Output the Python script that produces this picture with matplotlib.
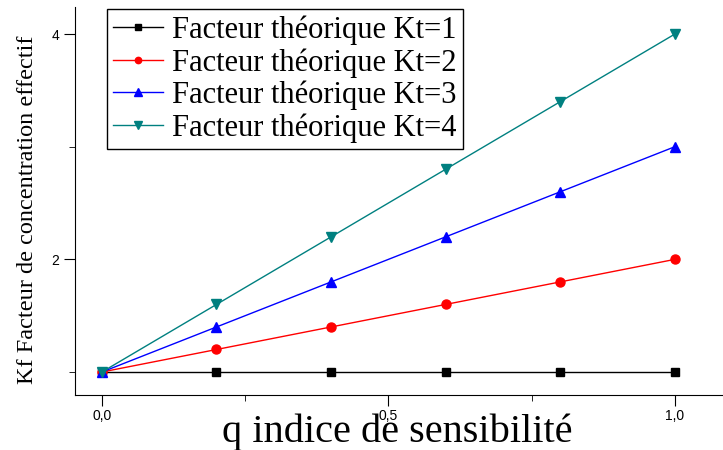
import numpy as np
import matplotlib
matplotlib.use("Agg")
import matplotlib.pyplot as plt
from matplotlib.ticker import MultipleLocator, FuncFormatter

# data
q = [0.0, 0.2, 0.4, 0.6, 0.8, 1.0]
kf_kt1 = [1.0, 1.0, 1.0, 1.0, 1.0, 1.0]
kf_kt2 = [1.0, 1.2, 1.4, 1.6, 1.8, 2.0]
kf_kt3 = [1.0, 1.4, 1.8, 2.2, 2.6, 3.0]
kf_kt4 = [1.0, 1.6, 2.2, 2.8, 3.4, 4.0]
labels = ["Facteur théorique Kt=1", "Facteur théorique Kt=2",
          "Facteur théorique Kt=3", "Facteur théorique Kt=4"]

serif = "Liberation Serif"
sans = "Liberation Sans"

fig = plt.figure(figsize=(7.23, 4.5), dpi=100)
ax = fig.add_axes([0.1037, 0.1222, 0.8963, 0.8622])

ax.plot(q, kf_kt1, color="black", lw=1, marker="s", ms=5.5, label=labels[0])
ax.plot(q, kf_kt2, color="red", lw=1, marker="o", ms=6.5, label=labels[1])
ax.plot(q, kf_kt3, color="blue", lw=1, marker="^", ms=7.5, label=labels[2])
ax.plot(q, kf_kt4, color="#008080", lw=1, marker="v", ms=7.5, label=labels[3])

ax.set_xlim(-0.047, 1.084)
ax.set_ylim(0.796, 4.24)

ax.spines["top"].set_visible(False)
ax.spines["right"].set_visible(False)

ax.xaxis.set_major_locator(MultipleLocator(0.5))
ax.xaxis.set_minor_locator(MultipleLocator(0.25))
ax.yaxis.set_major_locator(MultipleLocator(2))
ax.yaxis.set_minor_locator(MultipleLocator(1))
ax.xaxis.set_major_formatter(FuncFormatter(lambda v, p: f"{v:.1f}".replace(".", ",")))
ax.yaxis.set_major_formatter(FuncFormatter(lambda v, p: f"{v:.0f}"))
ax.tick_params(which="major", length=8, direction="out", labelsize=10)
ax.tick_params(which="minor", length=4, direction="out")
for t in ax.get_xticklabels() + ax.get_yticklabels():
    t.set_family(sans)
ax.tick_params(axis="x", pad=2)

fig.text(0.549, 0.04, "q indice de sensibilité", fontsize=29, family=serif,
         ha="center", va="center")
fig.text(0.038, 0.533, "Kf Facteur de concentration effectif", fontsize=17.5,
         family=serif, rotation=90, ha="center", va="center")

leg = ax.legend(loc="upper left", bbox_to_anchor=(0.049, 0.994), prop={"family": serif, "size": 22},
                frameon=True, fancybox=False, edgecolor="black", framealpha=1,
                handlelength=1.65, handletextpad=0.3, borderpad=0.2, labelspacing=0.1,
                borderaxespad=0, markerscale=0.7)
leg.get_frame().set_linewidth(1)

fig.savefig("out.png", dpi=100)
